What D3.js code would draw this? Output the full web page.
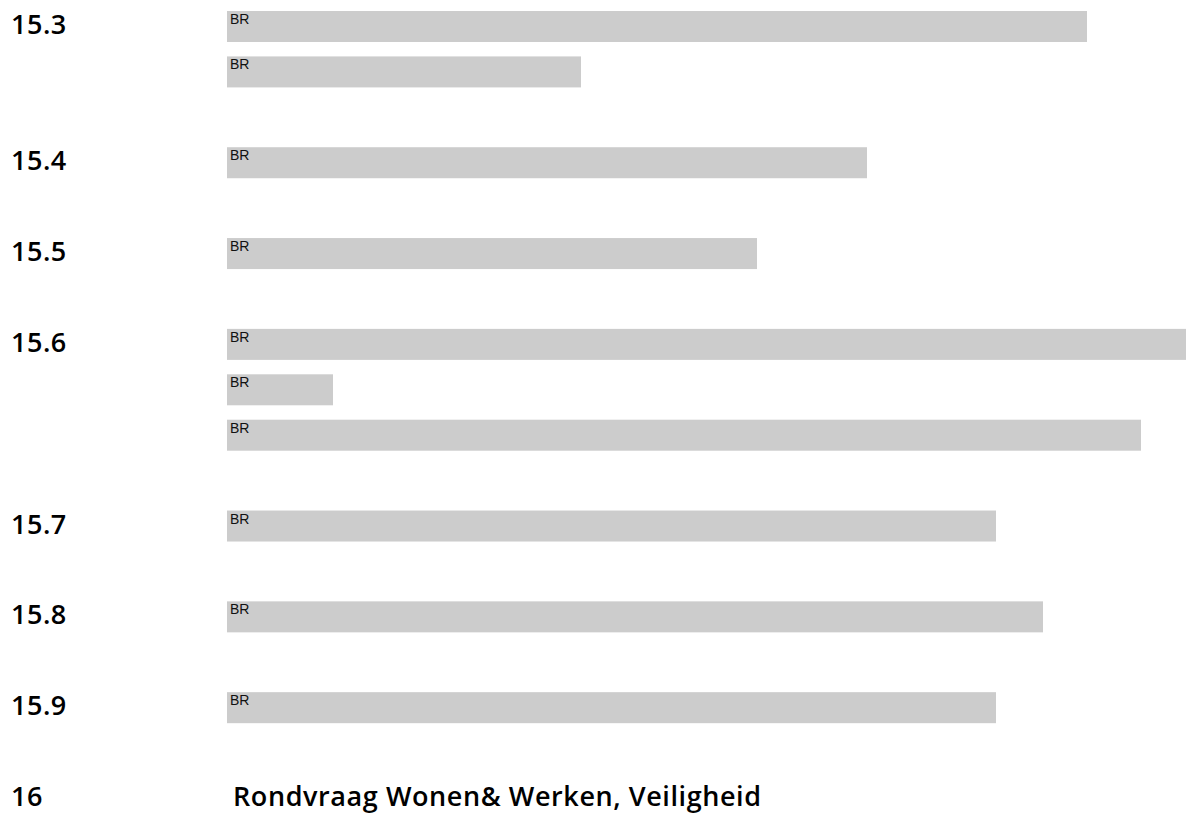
<!DOCTYPE html>
<html>
<head>
<meta charset="utf-8">
<script src="https://cdn.jsdelivr.net/npm/d3@7"></script>
<style>
  body { margin: 0; background: #fff; }
</style>
</head>
<body>
<svg id="chart" width="1187" height="814"></svg>
<script>
// agenda items and the slot (row) they start on
var items = ["15.3", "15.4", "15.5", "15.6", "15.7", "15.8", "15.9", "16"];
var itemSlots = [0, 3, 5, 7, 11, 13, 15, 17];
var lastTitle = "Rondvraag Wonen& Werken, Veiligheid";

// one entry per bar
var barItems = ["15.3", "15.3", "15.4", "15.5", "15.6", "15.6", "15.6", "15.7", "15.8", "15.9"];
var barSlots = [0, 1, 3, 5, 7, 8, 9, 11, 13, 15];
var barValues = [860, 354, 640, 530, 959, 106, 914, 769, 816, 769];
var barLabel = "BR";

var svg = d3.select("#chart");

var x = d3.scaleLinear().domain([0, 960]).range([227, 1187]);
var y = d3.scaleLinear().domain([0, 17]).range([11, 783]);
var barH = 31;

var bars = barValues.map(function (v, i) {
  return { item: barItems[i], slot: barSlots[i], value: v };
});

// bars
var g = svg.append("g");
g.selectAll("rect")
  .data(bars)
  .enter()
  .append("rect")
  .attr("x", x(0))
  .attr("y", function (d) { return y(d.slot); })
  .attr("width", function (d) { return x(d.value) - x(0); })
  .attr("height", barH)
  .style("fill", "#cccccc");

// "BR" tags inside the bars
g.selectAll("text.br")
  .data(bars)
  .enter()
  .append("text")
  .attr("class", "br")
  .attr("x", x(0) + 3)
  .attr("y", function (d) { return y(d.slot) + 13; })
  .style("font-family", "'Liberation Sans', Arial, sans-serif")
  .style("font-size", "14px")
  .style("fill", "#111")
  .text(barLabel);

var font = "'Open Sans', 'DejaVu Sans', sans-serif";

// item numbers on the left
svg.append("g")
  .selectAll("text")
  .data(items)
  .enter()
  .append("text")
  .attr("x", 11)
  .attr("y", function (d, i) { return y(itemSlots[i]) + 23; })
  .style("font-family", font)
  .style("font-size", "27px")
  .style("font-weight", 600)
  .style("letter-spacing", "0.5px")
  .style("fill", "#000")
  .text(function (d) { return d; });

// title for the last item (no bar)
svg.append("text")
  .attr("x", 233)
  .attr("y", y(itemSlots[itemSlots.length - 1]) + 23)
  .attr("textLength", 528)
  .attr("lengthAdjust", "spacing")
  .style("font-family", font)
  .style("font-size", "27px")
  .style("font-weight", 600)
  .style("fill", "#000")
  .text(lastTitle);
</script>
</body>
</html>
